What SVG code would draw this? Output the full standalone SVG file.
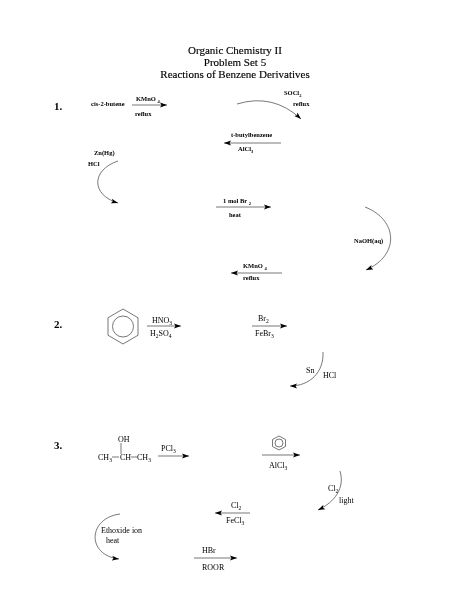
<svg xmlns="http://www.w3.org/2000/svg" width="464" height="600" viewBox="0 0 464 600">
<style>
text{font-family:"Liberation Serif","Times New Roman",serif;fill:#000}
.t{font-size:11px;text-anchor:middle;stroke:#000;stroke-width:.15px}
.n{font-size:11px;font-weight:bold}
.b{font-size:6.5px;font-weight:bold}
.r{font-size:8px}
.s{font-size:70%}
.c{fill:none;stroke:#555;stroke-width:.8}
.h{fill:none;stroke:#555;stroke-width:.8}
</style>
<defs>
<marker id="a" markerUnits="userSpaceOnUse" markerWidth="8" markerHeight="6" refX="7" refY="3" orient="auto"><path d="M0 .6L7 3L0 5.4L1.5 3Z" fill="#000"/></marker>
<filter id="f" x="-5%" y="-5%" width="110%" height="110%"><feGaussianBlur stdDeviation="0.3"/></filter>
</defs>
<g filter="url(#f)">
<g id="title">
<text class="t" x="235" y="54">Organic Chemistry II</text>
<text class="t" x="235" y="66">Problem Set 5</text>
<text class="t" x="235" y="78">Reactions of Benzene Derivatives</text>
</g>
<g id="connectors">
<path class="c" marker-end="url(#a)" d="M237 104Q273 93 301 119"/>
<path class="c" marker-end="url(#a)" d="M132 105H167"/>
<path class="c" marker-end="url(#a)" d="M281 143H224"/>
<path class="c" marker-end="url(#a)" d="M118 161C91 170 91 195 118 203"/>
<path class="c" marker-end="url(#a)" d="M216 207H271"/>
<path class="c" marker-end="url(#a)" d="M365 207C398 220 400 255 366 270"/>
<path class="c" marker-end="url(#a)" d="M282 273H231"/>
<path class="c" marker-end="url(#a)" d="M147 326H181"/>
<path class="c" marker-end="url(#a)" d="M252 326H287"/>
<path class="c" marker-end="url(#a)" d="M323 352C324 372 310 386 290 386"/>
<path class="c" marker-end="url(#a)" d="M158 456H189"/>
<path class="c" marker-end="url(#a)" d="M262 455H300"/>
<path class="c" marker-end="url(#a)" d="M340 471C345 488 335 502 318 510"/>
<path class="c" marker-end="url(#a)" d="M250 513H215"/>
<path class="c" marker-end="url(#a)" d="M120 514C88 518 86 555 119 559"/>
<path class="c" marker-end="url(#a)" d="M194 558H237"/>
</g>
<g id="problem-1">
<text class="n" x="54" y="110">1.</text>
<text class="b" x="91" y="106">cis-2-butene</text>
<text class="b" x="136" y="101">KMnO <tspan class="s" dy="1.5">4</tspan></text>
<text class="b" x="135" y="116">reflux</text>
<text class="b" x="284" y="95">SOCl<tspan class="s" dy="1.5">2</tspan></text>
<text class="b" x="293" y="106">reflux</text>
<text class="b" x="231" y="137">t-butylbenzene</text>
<text class="b" x="238" y="151">AlCl<tspan class="s" dy="1.5">3</tspan></text>
<text class="b" x="94" y="155">Zn(Hg)</text>
<text class="b" x="88" y="166">HCl</text>
<text class="b" x="223" y="203">1 mol Br <tspan class="s" dy="1.5">2</tspan></text>
<text class="b" x="229" y="217">heat</text>
<text class="b" x="354" y="243">NaOH(aq)</text>
<text class="b" x="243" y="268">KMnO <tspan class="s" dy="1.5">4</tspan></text>
<text class="b" x="243" y="280">reflux</text>
</g>
<g id="problem-2">
<text class="n" x="54" y="328">2.</text>
<path class="h" d="M123 309L138 317.750V335.250L123 344L108 335.250V317.750Z"/>
<circle class="h" cx="123" cy="326.500" r="10.500"/>
<text class="r" x="152" y="323">HNO<tspan class="s" dy="1.5">3</tspan></text>
<text class="r" x="150" y="336">H<tspan class="s" dy="1.500">2</tspan><tspan dy="-1.5">SO</tspan><tspan class="s" dy="1.500">4</tspan></text>
<text class="r" x="258" y="321">Br<tspan class="s" dy="1.500">2</tspan></text>
<text class="r" x="255" y="336">FeBr<tspan class="s" dy="1.500">3</tspan></text>
<text class="r" x="306" y="373">Sn</text>
<text class="r" x="323" y="378">HCl</text>
</g>
<g id="problem-3">
<text class="n" x="54" y="449">3.</text>
<text class="r" x="118" y="442">OH</text>
<path class="h" d="M121 443V454M112 457H119M131 457H137"/>
<text class="r" x="98" y="460">CH<tspan class="s" dy="1.500">3</tspan></text>
<text class="r" x="120" y="460">CH</text>
<text class="r" x="137" y="460">CH<tspan class="s" dy="1.500">3</tspan></text>
<text class="r" x="161" y="451">PCl<tspan class="s" dy="1.500">3</tspan></text>
<path class="h" d="M279 436L285.500 439.500V446.500L279 450L272.500 446.500V439.500Z"/>
<circle class="h" cx="279" cy="443" r="4"/>
<text class="r" x="269" y="468">AlCl<tspan class="s" dy="1.500">3</tspan></text>
<text class="r" x="328" y="491">Cl<tspan class="s" dy="1.500">2</tspan></text>
<text class="r" x="339" y="503">light</text>
<text class="r" x="231" y="508">Cl<tspan class="s" dy="1.500">2</tspan></text>
<text class="r" x="226" y="523">FeCl<tspan class="s" dy="1.500">3</tspan></text>
<text class="r" x="101" y="533">Ethoxide ion</text>
<text class="r" x="106" y="543">heat</text>
<text class="r" x="202" y="553">HBr</text>
<text class="r" x="202" y="570">ROOR</text>
</g>
</g>
</svg>
